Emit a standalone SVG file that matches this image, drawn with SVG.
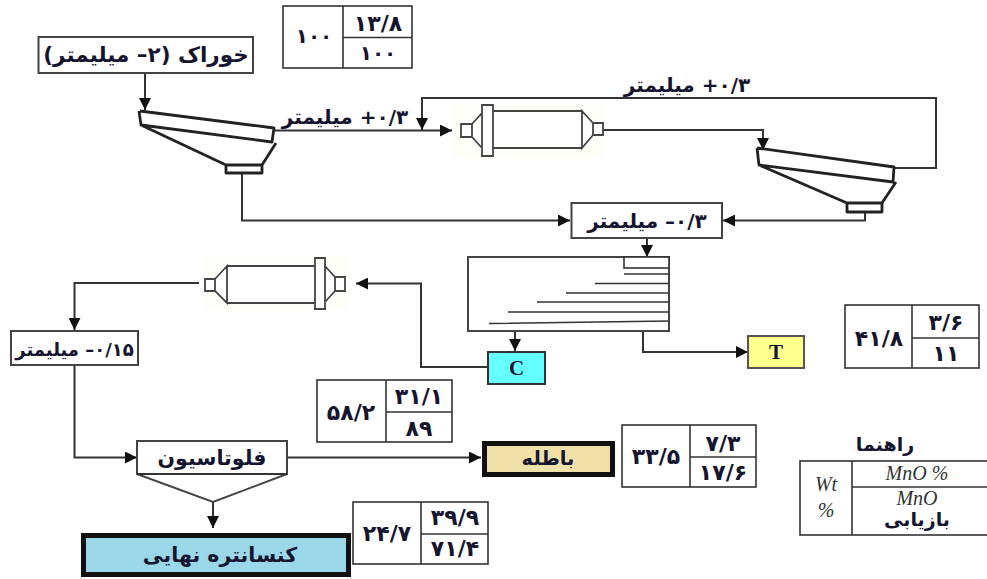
<svg xmlns="http://www.w3.org/2000/svg" width="987" height="579" viewBox="0 0 987 579">
<style>
text{font-family:"DejaVu Sans",sans-serif;font-weight:bold;fill:#151530;text-anchor:middle;direction:rtl}
.c{fill:none;stroke:#333;stroke-width:2}
.b{fill:#fff;stroke:#444;stroke-width:2}
.t{fill:#fff;stroke:#333;stroke-width:1.6}
.g{fill:none;stroke:#222;stroke-width:2.8;stroke-linejoin:round}
.m{fill:#fff;stroke:#444;stroke-width:1.8}
.s{stroke:#333;stroke-width:1.6}
.n{font-size:22px;direction:ltr}
.h{font-size:20px;letter-spacing:-2px;direction:ltr}
.l{font-size:20px}
.e{font-family:"Liberation Serif",serif;font-style:italic;font-weight:normal;font-size:20px;direction:ltr;fill:#333}
</style>
<defs>
<marker id="a" markerUnits="userSpaceOnUse" markerWidth="13" markerHeight="12" refX="12" refY="6" orient="auto"><path d="M0 0L12 6L0 12Z" fill="#111"/></marker>
</defs>
<g id="connectors" class="connectors">
<path class="c" d="M145 73V110" marker-end="url(#a)"/>
<path class="c" d="M275 130.500H452" marker-end="url(#a)"/>
<path class="c" d="M894 168H936V98H422V130" marker-end="url(#a)"/>
<path class="c" d="M603 130H763V150" marker-end="url(#a)"/>
<path class="c" d="M242 173V220.500H570" marker-end="url(#a)"/>
<path class="c" d="M865 212V220.500H723" marker-end="url(#a)"/>
<path class="c" d="M647 238V257" marker-end="url(#a)"/>
<path class="c" d="M515 331V351" marker-end="url(#a)"/>
<path class="c" d="M643 331V352H748" marker-end="url(#a)"/>
<path class="c" d="M488 367H421V283.500H356" marker-end="url(#a)"/>
<path class="c" d="M199 283H74.500V330" marker-end="url(#a)"/>
<path class="c" d="M74.500 365V457.500H137" marker-end="url(#a)"/>
<path class="c" d="M287 457.500H481" marker-end="url(#a)"/>
<path class="c" d="M213 502V528" marker-end="url(#a)"/>
</g>
<g id="feed"><rect class="b" x="38.500" y="37" width="214.500" height="36"/><text x="146" y="62" font-size="21.500">خوراک (۲– میلیمتر)</text></g>
<g id="screen1"><path class="g" d="M140 111L274 128L272 142L141 125L139 111M141 125L226 165H262L276 143M226 165V173H262V165"/></g>
<g id="screen2"><path class="g" d="M757 148L894 167L893 182L759 165L757 148M759 165L847 203H882L896 182M847 203V212H882V203"/></g>
<g id="mill1"><rect x="453" y="104" width="150" height="54" fill="#fefef9"/><path class="m" d="M461 124H472V137H461ZM472 124L482 113V148L472 137ZM482 105H493V156H482ZM493 111H582V148H493ZM582 111L593 123V135L582 148ZM593 123H603V135H593Z"/></g>
<g id="mill2"><rect x="205" y="256" width="142" height="54" fill="#fefef9"/><path class="m" d="M205 279H215V291H205ZM215 279L227 266V303L215 291ZM227 266H315V303H227ZM315 258H325V309H315ZM325 266L335 277V291L325 302ZM335 277H345V291H335Z"/></g>
<g id="size03"><rect class="b" x="571.500" y="203" width="150.500" height="35"/><text class="l" x="647" y="228">۰/۳– میلیمتر</text></g>
<g id="label-over1"><text class="l" x="345" y="124">۰/۳+ میلیمتر</text></g>
<g id="label-over2"><text class="l" x="687" y="92">۰/۳+ میلیمتر</text></g>
<g id="thickener"><path class="b" d="M468 257H669V331H468Z"/><rect class="t" x="624" y="257" width="45" height="11"/><path class="s" d="M624 274H669M595 283.500H669M566 293H669M537 302H669M508 312H669M489 323.500L669 321"/></g>
<g id="C"><rect x="488" y="352" width="57" height="32" fill="#66FFFF" stroke="#333" stroke-width="2"/><text x="516.500" y="375" font-size="21" style="font-family:'Liberation Serif',serif;direction:ltr">C</text></g>
<g id="T"><rect x="748" y="336" width="56" height="32" fill="#FFFF8C" stroke="#555" stroke-width="2"/><text x="776" y="359" font-size="21" style="font-family:'Liberation Serif',serif;direction:ltr">T</text></g>
<g id="size015"><rect class="b" x="11" y="331" width="127" height="34"/><text x="74.500" y="356" font-size="18">۰/۱۵– میلیمتر</text></g>
<g id="flotation"><path class="b" d="M137 441H287V474L213 502L137 474Z"/><path class="c" d="M137 474H287"/><text x="212" y="465" font-size="20.500">فلوتاسیون</text></g>
<g id="tailings"><rect x="484.500" y="443.500" width="128" height="31" fill="#EFE0A8" stroke="#111" stroke-width="5"/><text x="548" y="465" font-size="19.500">باطله</text></g>
<g id="concentrate"><rect x="83.500" y="535.500" width="265" height="39" fill="#9AD8E9" stroke="#111" stroke-width="5"/><text x="220" y="562" font-size="20.500">کنسانتره نهایی</text></g>
<g id="table-feed"><rect class="t" x="283" y="6" width="129" height="62"/><path class="s" d="M343 6V68M343 37.500H412"/><text class="h" x="314" y="43">۱۰۰</text><text class="n" x="378" y="31">۱۳/۸</text><text class="h" x="378" y="60">۱۰۰</text></g>
<g id="table-t"><rect class="t" x="845" y="305" width="134" height="63"/><path class="s" d="M912 305V368M912 338H979"/><text class="n" x="879" y="346">۴۱/۸</text><text class="n" x="946" y="330">۳/۶</text><text class="n" x="946" y="361">۱۱</text></g>
<g id="table-c"><rect class="t" x="317" y="380" width="135" height="62"/><path class="s" d="M386 380V442M386 412H452"/><text class="n" x="351" y="420">۵۸/۲</text><text class="n" x="419" y="404">۳۱/۱</text><text class="n" x="419" y="436">۸۹</text></g>
<g id="table-tail"><rect class="t" x="622" y="425" width="134" height="62"/><path class="s" d="M690 425V487M690 457H756"/><text class="n" x="656" y="464">۳۳/۵</text><text class="n" x="723" y="451">۷/۳</text><text class="n" x="723" y="480">۱۷/۶</text></g>
<g id="table-conc"><rect class="t" x="353" y="502" width="135" height="62"/><path class="s" d="M421 502V564M421 534H488"/><text class="n" x="387" y="541">۲۴/۷</text><text class="n" x="455" y="525">۳۹/۹</text><text class="n" x="455" y="556">۷۱/۴</text></g>
<g id="legend"><text x="885" y="451" font-size="19">راهنما</text><rect class="t" x="800" y="461" width="190" height="74"/><path class="s" d="M852 461V535M852 487H987"/><text class="e" x="826" y="491">Wt</text><text class="e" x="826" y="517">%</text><text class="e" x="917" y="480">MnO %</text><text class="e" x="917" y="505">MnO</text><text x="917" y="526" font-size="19">بازیابی</text></g>
</svg>
